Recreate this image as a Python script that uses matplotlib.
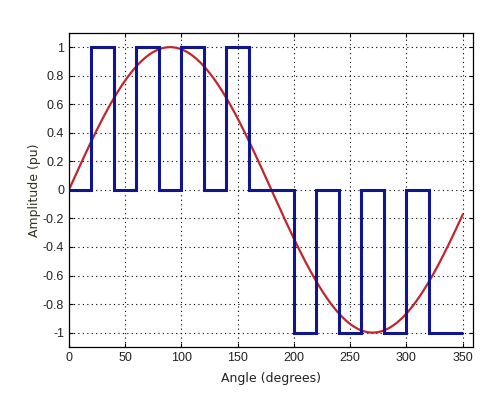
import numpy as np
import matplotlib.pyplot as plt

# switching pattern: (start angle, end angle, level)
edges = [0, 20, 40, 60, 80, 100, 120, 140, 160, 200, 220, 240, 260, 280, 300, 320, 350]
levels = [0, 1, 0, 1, 0, 1, 0, 1, 0, -1, 0, -1, 0, -1, 0, -1]

xt = np.arange(0, 351, 50)
yt = np.round(np.arange(-1, 1.01, 0.2), 1)
ylabels = ["1" if v == 1 else "-1" if v == -1 else "0" if v == 0 else f"{v:g}" for v in yt]

plt.rcParams['font.family'] = ['Liberation Sans', 'DejaVu Sans']
fig = plt.figure(figsize=(5.03, 3.96), dpi=100)
ax = fig.add_axes([0.137, 0.124, 0.803, 0.793])

ang = np.linspace(0, 350, 701)
ax.plot(ang, np.sin(np.radians(ang)), color="#c0262c", lw=1.6, zorder=2)

ax.stairs(levels, edges, color="#10168f", lw=2.2, baseline=None, zorder=3)

ax.set_xlim(0, 359)
ax.set_ylim(-1.1, 1.1)
ax.set_xticks(xt)
ax.set_yticks(yt)
ax.set_yticklabels(ylabels)
ax.tick_params(direction="in", top=True, right=True, labelsize=9, length=3, colors="black")
for lbl in ax.get_xticklabels() + ax.get_yticklabels():
    lbl.set_color("#222222")
ax.grid(True, color="black", linestyle=(0, (1, 3)), lw=0.8)
for s in ax.spines.values():
    s.set_linewidth(0.9)

ax.set_xlabel("Angle (degrees)", fontsize=9, family="DejaVu Sans", color="#222222", labelpad=6)
ax.set_ylabel("Amplitude (pu)", fontsize=9, family="DejaVu Sans", color="#333322", labelpad=1)

fig.savefig("out.png", dpi=100, facecolor="white")
